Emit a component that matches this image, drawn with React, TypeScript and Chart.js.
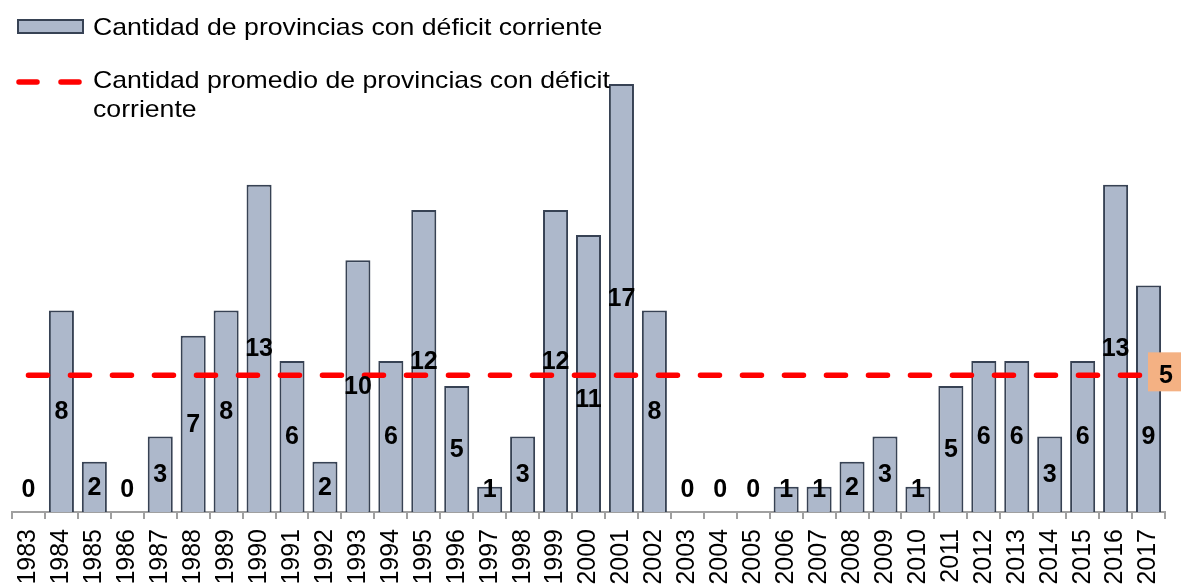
import React, { useEffect, useRef } from "react";
import { Chart, registerables } from "chart.js";

Chart.register(...registerables);

const years: string[] = [
  "1983","1984","1985","1986","1987","1988","1989","1990","1991","1992",
  "1993","1994","1995","1996","1997","1998","1999","2000","2001","2002",
  "2003","2004","2005","2006","2007","2008","2009","2010","2011","2012",
  "2013","2014","2015","2016","2017",
];
const deficitCount: number[] = [
  0, 8, 2, 0, 3, 7, 8, 13, 6, 2,
  10, 6, 12, 5, 1, 3, 12, 11, 17, 8,
  0, 0, 0, 1, 1, 2, 3, 1, 5, 6,
  6, 3, 6, 13, 9,
];
// value-axis anchor for labels that were moved off the average line in the original
const labelAnchorOverrides: Record<string, number> = { "2000": 4.5, "2017": 3.0 };
const averageValue: number = deficitCount.reduce((a, b) => a + b, 0) / deficitCount.length;
const averageLabel = "5";
const barLegend = "Cantidad de provincias con déficit corriente";
const lineLegendLines: string[] = ["Cantidad promedio de provincias con déficit", "corriente"];

const FONT = "'Liberation Sans', Arial, sans-serif";
const BAR_FILL = "#ADB8CB";
const BAR_BORDER = "#374254";
const RED = "#FF0000";
const ORANGE = "#F4B183";

const overlayPlugin = {
  id: "overlay",
  afterDatasetsDraw(chart: any) {
    const ctx = chart.ctx;
    const x = chart.scales.x;
    const y = chart.scales.y;
    ctx.save();
    ctx.fillStyle = "#000";
    ctx.font = `bold 25px ${FONT}`;
    ctx.textAlign = "center";
    ctx.textBaseline = "middle";
    deficitCount.forEach((v, i) => {
      const px = x.getPixelForValue(i);
      const anchor = labelAnchorOverrides[years[i]] ?? Math.max(v / 2, 0.9);
      const py = y.getPixelForValue(anchor);
      ctx.fillText(String(v), px, py + 1);
    });
    // average box
    const ay = y.getPixelForValue(averageValue);
    ctx.fillStyle = ORANGE;
    ctx.fillRect(1148, ay - 23, 33, 39);
    ctx.fillStyle = "#000";
    ctx.fillText(averageLabel, 1166, ay + 1);
    ctx.restore();
  },
  afterDraw(chart: any) {
    const ctx = chart.ctx;
    ctx.save();
    // bar legend symbol
    ctx.fillStyle = BAR_FILL;
    ctx.fillRect(18, 20, 65, 13);
    ctx.strokeStyle = BAR_BORDER;
    ctx.lineWidth = 2;
    ctx.strokeRect(18, 20, 65, 13);
    // line legend symbol
    ctx.strokeStyle = RED;
    ctx.lineWidth = 5.5;
    ctx.lineCap = "round";
    ctx.beginPath();
    ctx.moveTo(19, 82);
    ctx.lineTo(37, 82);
    ctx.moveTo(61, 82);
    ctx.lineTo(79, 82);
    ctx.stroke();
    // texts
    ctx.fillStyle = "#000";
    ctx.font = `24px ${FONT}`;
    ctx.textAlign = "left";
    ctx.textBaseline = "alphabetic";
    const drawText = (t: string, tx: number, ty: number) => {
      ctx.save();
      ctx.translate(tx, ty);
      ctx.scale(1.11, 1);
      ctx.fillText(t, 0, 0);
      ctx.restore();
    };
    drawText(barLegend, 93, 35);
    lineLegendLines.forEach((t, i) => drawText(t, 93, 88 + i * 29));
    ctx.restore();
  },
};

export default function App() {
  const ref = useRef<HTMLCanvasElement | null>(null);
  useEffect(() => {
    if (!ref.current) return;
    const chart = new Chart(ref.current, {
      type: "bar",
      data: {
        labels: years,
        datasets: [
          {
            type: "line",
            label: lineLegendLines.join(" "),
            data: years.map(() => averageValue),
            borderColor: RED,
            borderWidth: 5.5,
            borderDash: [19, 23],
            borderCapStyle: "round",
            pointRadius: 0,
            fill: false,
            order: 0,
          } as any,
          {
            type: "bar",
            label: barLegend,
            data: deficitCount,
            backgroundColor: BAR_FILL,
            borderColor: BAR_BORDER,
            borderWidth: 2,
            barPercentage: 0.76,
            categoryPercentage: 1,
            order: 1,
          } as any,
        ],
      },
      options: {
        animation: false,
        responsive: false,
        maintainAspectRatio: false,
        layout: { padding: { left: 12, right: 16, top: 84, bottom: 0 } },
        plugins: { legend: { display: false }, tooltip: { enabled: false } },
        scales: {
          x: {
            offset: true,
            grid: {
              display: true,
              drawOnChartArea: false,
              drawTicks: true,
              tickLength: 7,
              color: "#A0A0A0",
              lineWidth: 2,
              offset: true,
            },
            border: { display: true, color: "#A0A0A0", width: 2 },
            ticks: {
              autoSkip: false,
              maxRotation: 90,
              minRotation: 90,
              padding: 10,
              color: "#000",
              font: { size: 25, family: FONT },
            },
            afterFit(scale: any) {
              scale.height = 76;
              scale.paddingLeft = 0;
              scale.paddingRight = 0;
            },
          },
          y: { display: false, min: 0, max: 17 },
        },
      },
      plugins: [overlayPlugin],
    });
    return () => chart.destroy();
  }, []);
  return (
    <div style={{ position: "absolute", left: 0, top: 0, width: 1181, height: 588, background: "#fff" }}>
      <canvas ref={ref} width={1181} height={588} style={{ width: 1181, height: 588 }} />
    </div>
  );
}
